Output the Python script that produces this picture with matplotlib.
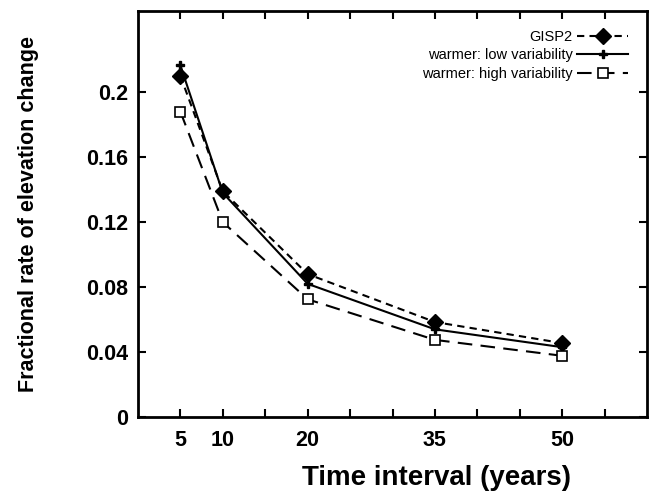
import matplotlib
matplotlib.use('Agg')
import matplotlib.pyplot as plt

plt.rcParams['font.family'] = ['Liberation Sans', 'DejaVu Sans']

# data
intervals = [5, 10, 20, 35, 50]
gisp2 = [0.210, 0.139, 0.088, 0.0585, 0.0455]
low_var = [0.2165, 0.138, 0.082, 0.054, 0.043]
high_var = [0.188, 0.120, 0.0725, 0.0475, 0.0377]
xtick_labels = ['5', '10', '20', '35', '50']
yticks = [0, 0.04, 0.08, 0.12, 0.16, 0.2]

fig = plt.figure(figsize=(6.49, 4.92), dpi=100)
ax = fig.add_axes([0.2126, 0.1524, 0.7844, 0.8252])

ax.plot(intervals, gisp2, color='black', lw=1.5, dashes=(3.5, 2.5),
        marker='D', markersize=8, label='GISP2')
ax.plot(intervals, low_var, color='black', lw=1.5, linestyle='-',
        marker='P', markersize=6, label='warmer: low variability')
ax.plot(intervals, high_var, color='black', lw=1.5, dashes=(7, 4),
        marker='s', markersize=7, markerfacecolor='white', markeredgewidth=1.2,
        label='warmer: high variability')

ax.set_xlim(0, 60)
ax.set_ylim(0, 0.25)
ax.set_xticks(range(5, 60, 5))
ax.set_xticklabels([str(v) if str(v) in xtick_labels else '' for v in range(5, 60, 5)])
ax.set_yticks(yticks)
ax.set_yticklabels(['0', '0.04', '0.08', '0.12', '0.16', '0.2'])

for lab in ax.get_xticklabels() + ax.get_yticklabels():
    lab.set_fontweight('bold')
    lab.set_fontsize(15.5)

ax.tick_params(direction='in', length=6, width=1.5, top=True, right=True)
ax.tick_params(axis='x', pad=9)
ax.tick_params(axis='y', pad=7)
for s in ax.spines.values():
    s.set_linewidth(2)

# x label sits right of centre in the original, just fitting at the bottom edge
ax.set_xlabel('Time interval (years)', fontsize=20, fontweight='bold')
ax.xaxis.set_label_coords(0.587, -0.167)
ax.xaxis.label.set_va('baseline')
ax.set_ylabel('Fractional rate of elevation change', fontsize=15.5, fontweight='bold')
ax.yaxis.set_label_coords(-0.216, 0.5)
ax.yaxis.label.set_va('center')

ax.legend(loc='upper right', frameon=False, markerfirst=False, fontsize=10.5,
          handlelength=3.5, handletextpad=0.3, borderaxespad=0.9, labelspacing=0.3)

fig.savefig('out.png', dpi=100)
